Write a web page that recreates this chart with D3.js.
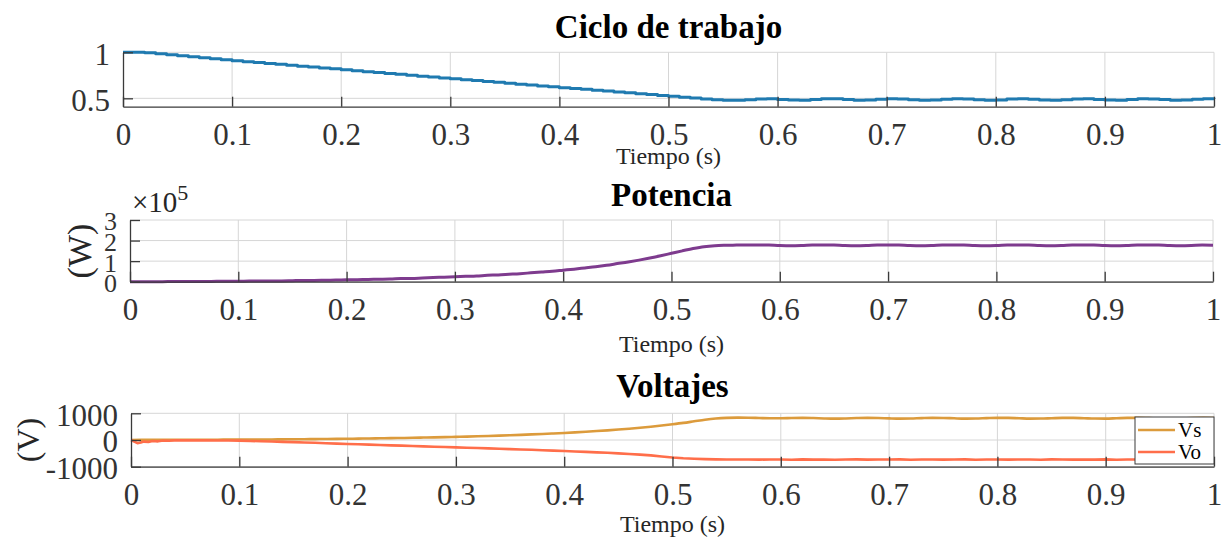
<!DOCTYPE html>
<html>
<head>
<meta charset="utf-8">
<script src="https://cdn.jsdelivr.net/npm/d3@7"></script>
<style>
  body { margin: 0; background: #fff; }
  svg { display: block; }
</style>
</head>
<body>
<svg id="chart" width="1224" height="544"></svg>
<script>
// time base, 10 ms steps
const t = d3.range(0, 101).map(i => i / 100)
const xTicks = [0, 0.1, 0.2, 0.3, 0.4, 0.5, 0.6, 0.7, 0.8, 0.9, 1]

// Ciclo de trabajo
const duty = [
  1.000, 1.000, 0.995, 0.984, 0.973, 0.962, 0.951, 0.941, 0.930, 0.919,
  0.908, 0.898, 0.888, 0.879, 0.869, 0.859, 0.849, 0.839, 0.830, 0.820,
  0.810, 0.800, 0.790, 0.781, 0.771, 0.761, 0.751, 0.741, 0.732, 0.722,
  0.712, 0.702, 0.693, 0.683, 0.674, 0.664, 0.654, 0.645, 0.635, 0.626,
  0.616, 0.607, 0.598, 0.588, 0.579, 0.570, 0.560, 0.551, 0.542, 0.532,
  0.523, 0.513, 0.503, 0.493, 0.485, 0.480, 0.479, 0.484, 0.494, 0.496,
  0.488, 0.481, 0.480, 0.487, 0.495, 0.495, 0.487, 0.480, 0.481, 0.489,
  0.496, 0.493, 0.485, 0.480, 0.482, 0.491, 0.496, 0.492, 0.484, 0.479,
  0.483, 0.492, 0.496, 0.490, 0.482, 0.480, 0.485, 0.494, 0.495, 0.488,
  0.481, 0.480, 0.487, 0.495, 0.494, 0.486, 0.480, 0.481, 0.489, 0.496,
  0.493
]
const dutyTicks = [0.5, 1]

// Potencia, in units of 1e5 W
const power = [
  0.00, 0.00, 0.00, 0.00, 0.01, 0.01, 0.01, 0.01, 0.02, 0.02,
  0.02, 0.03, 0.03, 0.04, 0.04, 0.05, 0.06, 0.06, 0.07, 0.08,
  0.09, 0.10, 0.11, 0.12, 0.13, 0.15, 0.16, 0.18, 0.20, 0.22,
  0.24, 0.26, 0.28, 0.31, 0.33, 0.36, 0.39, 0.43, 0.47, 0.51,
  0.56, 0.61, 0.67, 0.73, 0.80, 0.88, 0.96, 1.05, 1.15, 1.26,
  1.38, 1.50, 1.61, 1.70, 1.75, 1.77, 1.78, 1.79, 1.79, 1.78,
  1.76, 1.75, 1.76, 1.78, 1.79, 1.78, 1.76, 1.75, 1.76, 1.78,
  1.79, 1.78, 1.76, 1.75, 1.76, 1.78, 1.79, 1.78, 1.76, 1.75,
  1.76, 1.78, 1.79, 1.78, 1.76, 1.75, 1.76, 1.78, 1.79, 1.78,
  1.76, 1.75, 1.76, 1.78, 1.79, 1.78, 1.76, 1.75, 1.76, 1.78,
  1.77
]
const powerTicks = [0, 1, 2, 3]

// Voltajes
const vs = [
  0, 5, 5, 6, 7, 8, 9, 10, 12, 13,
  15, 17, 19, 21, 24, 27, 30, 34, 38, 42,
  47, 52, 57, 63, 69, 76, 83, 91, 99, 108,
  118, 128, 139, 151, 164, 178, 193, 209, 226, 245,
  265, 287, 310, 335, 362, 391, 423, 458, 497, 540,
  588, 640, 700, 760, 805, 830, 838, 835, 825, 815,
  815, 825, 830, 822, 808, 800, 808, 822, 830, 824,
  810, 800, 806, 820, 830, 826, 812, 801, 804, 818,
  829, 827, 814, 802, 803, 816, 828, 828, 816, 803,
  802, 814, 827, 829, 818, 805, 801, 811, 825, 830,
  820
]
// Vo has a start-up dip, sampled finer at the beginning
const voStartT = [0, 0.003, 0.006, 0.009, 0.012, 0.016, 0.02, 0.025, 0.03, 0.035, 0.04]
const voStart = [0, -60, -120, -95, -60, -75, -40, -50, -20, -30, -15]
const vo = [
  -10, -15, -12, -18, -20,
  -25, -35, -45, -55, -70, -80, -95, -105, -120, -135,
  -150, -162, -175, -187, -200, -212, -225, -237, -250, -262,
  -275, -288, -300, -313, -326, -340, -353, -367, -382, -397,
  -412, -428, -445, -462, -480, -500, -522, -548, -577, -615,
  -655, -685, -705, -718, -725, -730, -733, -730, -735, -728,
  -732, -738, -726, -734, -729, -737, -731, -725, -736, -730,
  -733, -727, -739, -731, -728, -735, -730, -726, -737, -732,
  -729, -736, -728, -733, -738, -727, -731, -735, -729, -734,
  -726, -737, -730, -733, -728, -736, -731, -727, -735, -730,
  -733
]
const voltTicks = [-1000, 0, 1000]
const legendNames = ['Vs', 'Vo']

const serif = '"Liberation Serif", "Times New Roman", serif'
const gridColor = '#d6d6d6'
const axisColor = '#3a3a3a'
const svg = d3.select('#chart')

function xFormat(d) {
  return d === 0 || d === 1 ? String(d) : d.toFixed(1)
}

function drawPanel({left, right, top, bottom, yDomain, yTicks, yFormat, yFontSize=31, title, titleY, xLabelY, series}) {
  const x = d3.scaleLinear().domain([0, 1]).range([left, right])
  const y = d3.scaleLinear().domain(yDomain).range([bottom, top])
  const g = svg.append('g')

  g.append('g')
    .selectAll('line')
    .data(xTicks.slice(1))
    .join('line')
      .attr('x1', d => x(d)).attr('x2', d => x(d))
      .attr('y1', top).attr('y2', bottom)
      .attr('stroke', gridColor)
  g.append('g')
    .selectAll('line')
    .data(yTicks)
    .join('line')
      .attr('x1', left).attr('x2', right)
      .attr('y1', d => y(d)).attr('y2', d => y(d))
      .attr('stroke', gridColor)

  for (let s of series) {
    const line = d3.line()
                   .x(d => x(d[0]))
                   .y(d => y(d[1]))
                   .curve(s.curve)
    g.append('path')
      .datum(d3.zip(s.t, s.v))
      .attr('d', line)
      .attr('fill', 'none')
      .attr('stroke', s.color)
      .attr('stroke-width', s.width)
      .attr('stroke-linejoin', 'round')
  }

  g.append('g')
    .attr('transform', `translate(0,${bottom})`)
    .call(d3.axisBottom(x).tickValues(xTicks).tickFormat(xFormat)
            .tickSizeInner(-10).tickSizeOuter(0).tickPadding(16))
    .call(styleAxis)
  g.append('g')
    .attr('transform', `translate(${left},0)`)
    .call(d3.axisLeft(y).tickValues(yTicks).tickFormat(yFormat)
            .tickSizeInner(-10).tickSizeOuter(0).tickPadding(13))
    .call(styleAxis)
    .call(a => a.attr('font-size', yFontSize).selectAll('text').attr('dy', '0.38em'))

  g.append('text')
    .attr('x', (left + right) / 2)
    .attr('y', titleY)
    .attr('text-anchor', 'middle')
    .attr('font-family', serif)
    .attr('font-weight', 'bold')
    .attr('font-size', 33)
    .attr('fill', '#000')
    .text(title)
  g.append('text')
    .attr('x', (left + right) / 2)
    .attr('y', xLabelY)
    .attr('text-anchor', 'middle')
    .attr('font-family', serif)
    .attr('font-size', 24)
    .attr('fill', '#262626')
    .text('Tiempo (s)')

  return {g, x, y}
}

function styleAxis(a) {
  a.attr('font-family', serif).attr('font-size', 31)
  a.select('.domain').attr('stroke', axisColor).attr('stroke-width', 1.3)
  a.selectAll('.tick line').attr('stroke', axisColor).attr('stroke-width', 1.3)
  a.selectAll('.tick text').attr('fill', '#333')
}

// panel 1
drawPanel({
  left: 123, right: 1214, top: 52.3, bottom: 106.7,
  yDomain: [0.409, 1], yTicks: dutyTicks, yFormat: d => String(d),
  title: 'Ciclo de trabajo', titleY: 38, xLabelY: 164,
  series: [{t: t, v: duty, color: '#1f7ab0', width: 3, curve: d3.curveStepAfter}]
})

// panel 2
const p2 = drawPanel({
  left: 130, right: 1213, top: 220, bottom: 281.7,
  yDomain: [0, 3], yTicks: powerTicks, yFormat: d => String(d), yFontSize: 26,
  title: 'Potencia', titleY: 206, xLabelY: 352,
  series: [{t: t, v: power, color: '#7e3b8e', width: 3, curve: d3.curveMonotoneX}]
})
p2.g.append('text')
  .attr('transform', 'translate(91,251) rotate(-90)')
  .attr('text-anchor', 'middle')
  .attr('font-family', serif)
  .attr('font-size', 34)
  .attr('fill', '#262626')
  .text('(W)')
const expo = p2.g.append('text')
  .attr('x', 132)
  .attr('y', 212)
  .attr('font-family', serif)
  .attr('font-size', 29)
  .attr('fill', '#262626')
expo.append('tspan').text('×10')
expo.append('tspan').attr('dy', -12).attr('font-size', 22).text('5')

// panel 3
const p3 = drawPanel({
  left: 131, right: 1214, top: 413.3, bottom: 466.7,
  yDomain: [-1000, 1000], yTicks: voltTicks, yFormat: d => String(d),
  title: 'Voltajes', titleY: 397, xLabelY: 532,
  series: [
    {t: t, v: vs, color: '#dc9b3c', width: 2.6, curve: d3.curveMonotoneX},
    {t: voStartT.concat(t.slice(5)), v: voStart.concat(vo), color: '#ff6e4a', width: 2.6, curve: d3.curveLinear}
  ]
})
p3.g.append('text')
  .attr('transform', 'translate(39,440) rotate(-90)')
  .attr('text-anchor', 'middle')
  .attr('font-family', serif)
  .attr('font-size', 32)
  .attr('fill', '#262626')
  .text('(V)')

const legendColors = ['#dc9b3c', '#ff6e4a']
const legend = p3.g.append('g').attr('transform', 'translate(1135,417)')
legend.append('rect')
  .attr('width', 79).attr('height', 47)
  .attr('fill', '#fff')
  .attr('stroke', axisColor)
  .attr('stroke-width', 1)
const item = legend.selectAll('g.item')
  .data(legendNames)
  .join('g')
    .attr('class', 'item')
    .attr('transform', (d, i) => `translate(0,${13 + i * 22})`)
item.append('line')
  .attr('x1', 3).attr('x2', 40)
  .attr('stroke', (d, i) => legendColors[i])
  .attr('stroke-width', 2.6)
item.append('text')
  .attr('x', 43).attr('dy', '0.35em')
  .attr('font-family', serif)
  .attr('font-size', 21)
  .attr('fill', '#000')
  .text(d => d)
</script>
</body>
</html>
